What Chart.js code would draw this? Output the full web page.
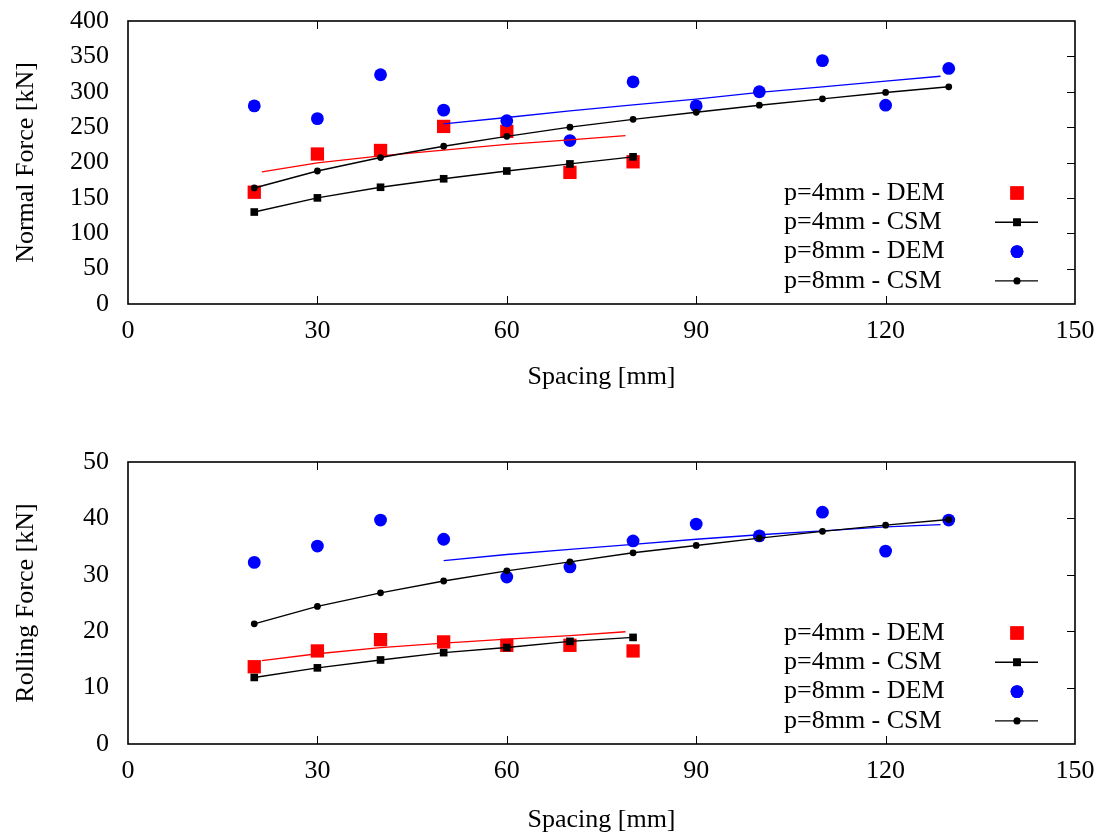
<!DOCTYPE html>
<html>
<head>
<meta charset="utf-8">
<script src="https://cdn.jsdelivr.net/npm/chart.js@4.4.1/dist/chart.umd.min.js"></script>
<style>
  body { margin: 0; background: #fff; }
  canvas { position: absolute; left: 0; }
</style>
</head>
<body>
<canvas id="normal" width="1102" height="418" style="top:0px"></canvas>
<canvas id="rolling" width="1102" height="419" style="top:418px"></canvas>
<script>
// spacing [mm]
const spacing4 = [20, 30, 40, 50, 60, 70, 80];
const spacing8 = [20, 30, 40, 50, 60, 70, 80, 90, 100, 110, 120, 130];
const fitX4 = [21.2, 30, 40, 50, 60, 70, 78.8];
const fitX8 = [50, 60, 70, 80, 90, 100, 110, 120, 128.7];
const xTicks = [0, 30, 60, 90, 120, 150];

// normal force [kN]
const normalDem4 = [158, 212, 217, 251, 244, 186, 201];
const normalCsm4 = [130, 150, 165, 177, 188, 198, 208];
const normalDem8 = [280, 262, 324, 274, 259, 231, 314, 280, 300, 344, 281, 333];
const normalCsm8 = [164, 188, 207, 223, 237, 250, 261, 271, 281, 290, 299, 307];
const normalFit4 = [186.7, 199.5, 209.4, 217.4, 225.5, 232, 238];
const normalFit8 = [254.5, 263.6, 273, 281.4, 289.5, 299, 307, 315, 321.9];

// rolling force [kN]
const rollDem4 = [13.7, 16.5, 18.5, 18.1, 17.5, 17.5, 16.5];
const rollCsm4 = [11.8, 13.5, 14.9, 16.2, 17.1, 18.2, 18.9];
const rollDem8 = [32.2, 35.1, 39.7, 36.3, 29.6, 31.4, 36, 39, 36.9, 41.1, 34.2, 39.7];
const rollCsm8 = [21.3, 24.4, 26.8, 28.9, 30.7, 32.3, 33.9, 35.2, 36.5, 37.7, 38.8, 39.8];
const rollFit4 = [14.8, 16, 17.1, 17.9, 18.6, 19.2, 19.9];
const rollFit8 = [32.5, 33.6, 34.5, 35.4, 36.3, 37.1, 37.8, 38.5, 38.9];

const labels = ['p=4mm - DEM', 'p=4mm - CSM', 'p=8mm - DEM', 'p=8mm - CSM'];

const FONT = '"Liberation Serif", "DejaVu Serif", serif';

const pts = (xs, ys) => xs.map((x, i) => ({ x: x, y: ys[i] }));

// box, inward ticks (bottom, top, right) and the key in the lower right
const frame = {
  id: 'frame',
  afterDraw(chart) {
    const ctx = chart.ctx;
    const a = chart.chartArea;
    const xs = chart.scales.x, ys = chart.scales.y;
    ctx.save();
    ctx.strokeStyle = '#000';
    ctx.lineWidth = 1;
    ctx.beginPath();
    xs.ticks.forEach(t => {
      if (t.value <= xs.min || t.value >= xs.max) return;
      const px = Math.round(xs.getPixelForValue(t.value)) + 0.5;
      ctx.moveTo(px, a.bottom); ctx.lineTo(px, a.bottom - 8);
      ctx.moveTo(px, a.top); ctx.lineTo(px, a.top + 8);
    });
    ys.ticks.forEach(t => {
      if (t.value <= ys.min || t.value >= ys.max) return;
      const py = Math.round(ys.getPixelForValue(t.value)) + 0.5;
      ctx.moveTo(a.right, py); ctx.lineTo(a.right - 8, py);
    });
    ctx.stroke();
    ctx.lineWidth = 1.6;
    ctx.strokeRect(a.left, a.top, a.right - a.left, a.bottom - a.top);

    // key
    ctx.font = '26px ' + FONT;
    ctx.textAlign = 'left';
    ctx.textBaseline = 'middle';
    chart.data.datasets.filter(d => d.keyRow !== undefined).forEach(d => {
      const y = a.bottom - 111 + d.keyRow * 29.3;
      ctx.fillStyle = '#000';
      ctx.fillText(d.label, a.left + 656, y);
      const sx = a.right - 58;
      if (d.showLine) {
        ctx.strokeStyle = d.borderColor;
        ctx.lineWidth = d.borderWidth;
        ctx.beginPath();
        ctx.moveTo(a.right - 80, y); ctx.lineTo(a.right - 37, y);
        ctx.stroke();
      }
      ctx.fillStyle = d.pointBackgroundColor;
      Chart.helpers.drawPoint(ctx, { pointStyle: d.pointStyle, radius: d.pointRadius, borderWidth: 0, rotation: 0 }, sx, y);
      ctx.fill();
    });
    ctx.restore();
  }
};

function makeChart(id, series, yMax, yStep, yTitle, padTop, xAxisHeight, titlePad) {
  const [dem4, csm4, dem8, csm8, fit4, fit8] = series;
  return new Chart(document.getElementById(id), {
    type: 'scatter',
    data: {
      datasets: [
        { label: labels[3], keyRow: 3, data: pts(spacing8, csm8), showLine: true, borderColor: '#000', borderWidth: 1.4,
          pointStyle: 'circle', pointRadius: 3.4, pointBackgroundColor: '#000', pointBorderWidth: 0, order: 0 },
        { label: labels[1], keyRow: 1, data: pts(spacing4, csm4), showLine: true, borderColor: '#000', borderWidth: 1.4,
          pointStyle: 'rect', pointRadius: 5.4, pointBackgroundColor: '#000', pointBorderWidth: 0, order: 1 },
        { label: 'fit 8', data: pts(fitX8, fit8), showLine: true, borderColor: '#0000ff', borderWidth: 1.3,
          pointRadius: 0, order: 2 },
        { label: 'fit 4', data: pts(fitX4, fit4), showLine: true, borderColor: '#ff0000', borderWidth: 1.3,
          pointRadius: 0, order: 3 },
        { label: labels[2], keyRow: 2, data: pts(spacing8, dem8), showLine: false, borderColor: '#0000ff',
          pointStyle: 'circle', pointRadius: 6.4, pointBackgroundColor: '#0000ff', pointBorderWidth: 0, order: 4 },
        { label: labels[0], keyRow: 0, data: pts(spacing4, dem4), showLine: false, borderColor: '#ff0000',
          pointStyle: 'rect', pointRadius: 9.4, pointBackgroundColor: '#ff0000', pointBorderWidth: 0, order: 5 }
      ]
    },
    options: {
      responsive: false,
      animation: false,
      events: [],
      layout: { padding: { top: padTop, right: 27, left: 0, bottom: 0 } },
      plugins: { legend: { display: false }, tooltip: { enabled: false } },
      scales: {
        x: {
          type: 'linear', min: 0, max: 150,
          afterBuildTicks: s => { s.ticks = xTicks.map(v => ({ value: v })); },
          afterFit: s => { s.height = xAxisHeight; s.paddingLeft = 0; s.paddingRight = 0; },
          grid: { display: false, drawTicks: false },
          border: { display: false },
          ticks: { color: '#000', padding: 12, maxRotation: 0, autoSkip: false, font: { family: FONT, size: 26 } },
          title: { display: true, text: 'Spacing [mm]', color: '#000', padding: { top: 0, bottom: titlePad },
                   font: { family: FONT, size: 26 } }
        },
        y: {
          type: 'linear', min: 0, max: yMax,
          ticks: { stepSize: yStep, color: '#000', padding: 19, autoSkip: false, font: { family: FONT, size: 26 } },
          afterFit: s => { s.width = 128; s.paddingTop = 0; s.paddingBottom = 0; },
          grid: { display: false, drawTicks: false },
          border: { display: false },
          title: { display: true, text: yTitle, color: '#000', padding: { top: 11, bottom: 0 },
                   font: { family: FONT, size: 26 } }
        }
      }
    },
    plugins: [frame]
  });
}

makeChart('normal', [normalDem4, normalCsm4, normalDem8, normalCsm8, normalFit4, normalFit8],
  400, 50, 'Normal Force [kN]', 21, 114, 25);
makeChart('rolling', [rollDem4, rollCsm4, rollDem8, rollCsm8, rollFit4, rollFit8],
  50, 10, 'Rolling Force [kN]', 44, 93, 1);
</script>
</body>
</html>
